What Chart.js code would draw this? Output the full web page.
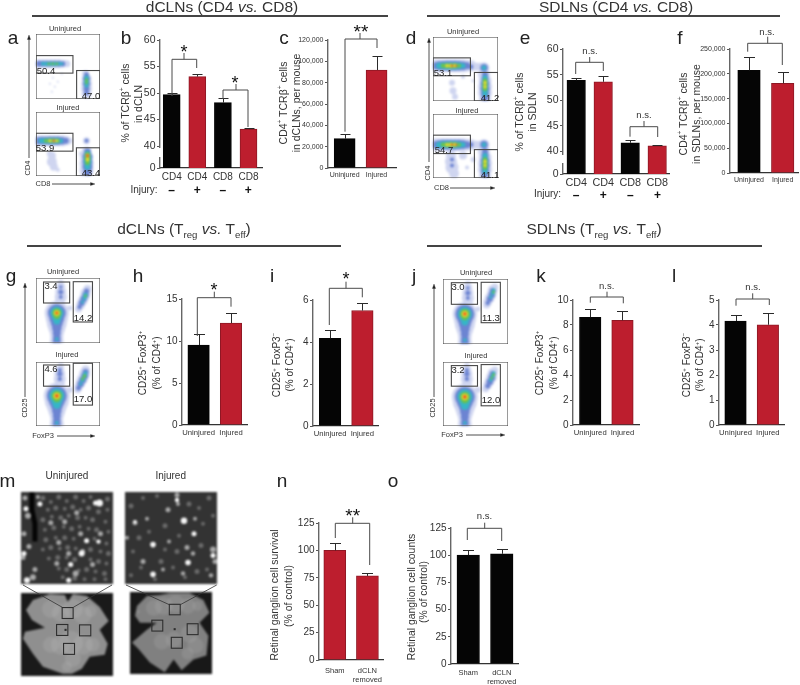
<!DOCTYPE html>
<html lang="en">
<head>
<meta charset="UTF-8">
<title>dCLN and SDLN panels</title>
<script src="https://cdn.jsdelivr.net/npm/chart.js"></script>
<style>
    html, body { margin: 0; padding: 0; background: #fff; }
    #page { position: relative; width: 800px; height: 685px; overflow: hidden; font-family: 'Liberation Sans', Arial, sans-serif; color: #333; }
    #page canvas { position: absolute; }
    .t { position: absolute; white-space: nowrap; line-height: 1; transform: translate(-50%, -50%); z-index: 5; }
    .v { transform: translate(-50%, -50%) rotate(-90deg); }
    .rule { position: absolute; height: 2px; background: #444; }
    sup, sub { font-size: .62em; line-height: 0; }
    #over { position: absolute; left: 0; top: 0; z-index: 4; }
</style>
</head>
<body>
<div id="page"></div>
<script>
// bar values
const BLACK = '#050505', RED = '#bd1e2e';
const catsInjury = ['CD4', 'CD4', 'CD8', 'CD8'];
const catsPair = ['Uninjured', 'Injured'];
const catsSham = ['Sham', ['dCLN', 'removed']];

const bValues = [49.7, 53.1, 48.2, 43.2];
const bTops = [50.1, 53.6, 49.0, 43.4];
const bTicks = [40, 45, 50, 55, 60];
const cValues = [27500, 91900];
const cTops = [32200, 104700];
const cTicks = [0, 20000, 40000, 60000, 80000, 100000, 120000];
const eValues = [53.9, 53.6, 41.7, 41.1];
const eTops = [54.3, 54.7, 42.3, 41.2];
const eTicks = [40, 45, 50, 55, 60];
const fValues = [207000, 181000];
const fTops = [233000, 204000];
const fTicks = [0, 50000, 100000, 150000, 200000, 250000];
const hValues = [9.52, 12.14];
const hTops = [10.8, 13.33];
const hTicks = [0, 5, 10, 15];
const iValues = [4.17, 5.5];
const iTops = [4.55, 5.88];
const iTicks = [0, 2, 4, 6];
const kValues = [8.62, 8.38];
const kTops = [9.26, 9.15];
const kTicks = [0, 2, 4, 6, 8, 10];
const lValues = [4.16, 4.01];
const lTops = [4.4, 4.48];
const lTicks = [0, 1, 2, 3, 4, 5];
const nValues = [100, 76.7];
const nTops = [106.7, 79.4];
const nTicks = [0, 25, 50, 75, 100, 125];
const oValues = [100, 101.3];
const oTops = [105.2, 105.6];
const oTicks = [0, 25, 50, 75, 100, 125];

// flow plots: dots as [x, y, r], one list per density level
const flowColors = ['#cfd5f0', '#6c84d2', '#35b6c6', '#6cc24a', '#f0dc2c', '#e8321e'];
const flowA1 = [
    [[3,30,4.5],[7,30,4.5],[11,30,4.5],[15,30,4.5],[19,30,4.5],[23,30,4.5],[27,30,4],[31,30,3.5],[50,40,3.5],[51,45,5],[51,50,5.5],[51,55,5.5],[51,60,5],[17,44,1],[14,50,1],[19,53,1],[22,48,1],[16,58,1],[26,40,1]],
    [[3,30,3],[7,30,3],[11,30,3],[15,30,3],[19,30,3],[23,30,3],[27,30,2.6],[51,41,2.5],[51,45,3.5],[51,50,3.5],[51,55,3],[51,59,2.5]],
    [[7,30,2],[11,30,2.2],[15,30,2.2],[19,30,2.2],[23,30,2],[26,30,1.5],[51,44,2.3],[51,48,2.6],[51,52,2]],
    [[13,30,1.3],[17,30,1.4],[21,30,1.3],[51,46,1.5],[51,49,1.4]], [], []
];
const flowA2 = [
    [[3,29,5.5],[7,29,5.5],[11,29,5.5],[15,29,5.5],[19,29,5.5],[23,29,5.5],[27,29,5.5],[31,29,4.5],[34,29,3],[51,29,3.5],[51,40,5],[51,46,6.5],[51,52,7],[51,58,7],[51,62,6],[16,44,4],[16,50,5],[18,55,4],[14,42,3],[22,58,2],[46,42,2.5]],
    [[2,29,3.5],[6,29,4],[10,29,4],[14,29,4.2],[18,29,4.2],[22,29,4.2],[26,29,3.8],[30,29,3],[51,29,2],[52,40,3.5],[52,45,5],[52,50,5],[52,55,5],[52,60,4]],
    [[5,29,2.5],[9,29,2.8],[13,29,3],[17,29,3],[21,29,3],[25,29,2.4],[52,42,3],[52,46,3.8],[52,50,3.8],[52,55,3]],
    [[10,29,2],[14,29,2.2],[18,29,2.2],[22,29,2],[52,43,2.6],[52,47,2.8],[52,51,2.4]],
    [[14,29,1.5],[18,29,1.6],[21,29,1.4],[52,44,2],[52,48,1.8]],
    [[18,29,1],[52,44,1.3]]
];
const flowD1 = [
    [[2,29,6.5],[6,29,6.5],[10,29,6.5],[14,29,6.5],[18,29,6.5],[22,29,6.5],[26,29,6.5],[30,29,6.5],[34,29,6],[38,29,5.5],[43,30,4],[47,30,4],[51,31,5.5],[51,38,6],[52,44,6.5],[52,50,7],[52,56,7],[52,62,6],[19,46,3],[20,54,3.5],[22,60,3],[30,40,2],[40,44,1.5]],
    [[2,29,3.5],[6,29,4.5],[10,29,4.8],[14,29,5],[18,29,5],[22,29,5],[26,29,4.8],[30,29,4.4],[34,29,3.5],[38,30,2.4],[51,31,3.8],[52,38,3],[52,42,3.6],[52,47,4.4],[52,52,4.6],[52,57,4.2],[52,61,3.5]],
    [[6,29,3],[10,29,3.3],[14,29,3.6],[18,29,3.6],[22,29,3.6],[26,29,3.2],[30,29,2.5],[51,31,2.2],[52,41,2.5],[52,45,3],[52,49,3.2],[52,53,3],[52,57,2.6]],
    [[10,29,2.2],[14,29,2.5],[18,29,2.6],[22,29,2.5],[26,29,2],[52,44,2.3],[52,48,2.5],[52,52,2.3]],
    [[14,29,1.7],[18,29,1.9],[22,29,1.8],[52,46,1.8],[52,50,1.7]],
    [[19,29,1],[23,29,.9]]
];
const flowD2 = [
    [[2,31,6.5],[6,31,6.5],[10,31,6.5],[14,31,6.5],[18,31,6.5],[22,31,6.5],[26,31,6.5],[30,31,6.5],[34,31,6],[38,31,5.5],[43,31,4],[47,31,4],[51,31,5.5],[51,38,6],[52,44,6.5],[52,50,7],[52,56,7],[52,62,6],[18,42,5],[18,48,6],[19,54,6.5],[21,60,5],[30,42,4],[40,46,2.5],[34,54,2]],
    [[2,31,3.5],[6,31,4.5],[10,31,4.8],[14,31,5],[18,31,5],[22,31,5],[26,31,4.8],[30,31,4.4],[34,31,3.5],[38,31,2.4],[51,31,3.8],[52,38,3],[52,42,3.6],[52,47,4.4],[52,52,4.6],[52,57,4.2],[52,61,3.5],[19,46,2],[19,52,2]],
    [[6,31,3],[10,31,3.3],[14,31,3.6],[18,31,3.6],[22,31,3.6],[26,31,3.2],[30,31,2.5],[51,31,2.2],[52,42,2.5],[52,46,3],[52,50,3.2],[52,54,3],[52,58,2.6]],
    [[10,31,2.2],[14,31,2.5],[18,31,2.6],[22,31,2.5],[26,31,2],[52,46,2.3],[52,50,2.5],[52,54,2.3]],
    [[14,31,1.7],[18,31,1.9],[22,31,1.8],[52,48,1.8],[52,52,1.6]],
    [[19,31,1],[23,31,.9]]
];
const flowG1 = [
    [[21,35,12],[21,40,11],[21,45,10],[21,50,8.5],[21,55,7],[21,60,6.5],[21,64,7],[24,24,5],[25,19,6],[25,14,5.5],[25,9,4.5],[25,5,3],[34,30,2.5],[43,31,3.5],[45,27,4.5],[47,23,5],[49,19,5],[50,15,5],[52,11,4]],
    [[21,35,9],[21,40,7.5],[21,45,6],[21,50,4.8],[21,55,4],[21,60,3.8],[21,64,4],[25,19,2],[25,14,2.5],[25,9,1.8],[44,29,2.2],[46,25,3],[48,21,3.2],[50,17,3.2],[51,13,2.6]],
    [[21,35,6.5],[21,39,5],[21,43,3.5],[21,61,1.8],[47,24,1.6],[49,20,2],[50,17,2.2]],
    [[21,35,4.5],[21,38,3],[50,18,1.3]],
    [[21,35,2.8]],
    [[21,35,1.3]]
];
const flowG2 = [
    [[21,34,13],[21,39,12],[21,44,10],[21,49,8.5],[21,54,7],[21,59,6.5],[21,63,7],[24,22,5],[24,17,6],[24,12,5.5],[24,8,4.5],[25,4,3],[34,28,3],[42,28,3.5],[43,25,4.5],[45,21,5],[47,17,5.5],[49,12,5.5],[50,8,4.5]],
    [[21,34,10],[21,39,8],[21,44,6],[21,49,4.8],[21,54,4],[21,59,3.8],[21,63,4],[24,17,2.2],[24,12,2.6],[24,8,2],[43,26,2.5],[45,22,3.2],[47,18,3.5],[49,14,3.5],[50,10,3]],
    [[21,34,7.5],[21,39,5.5],[21,43,4],[21,61,1.8],[45,22,1.6],[47,18,2.2],[49,14,2.4],[50,11,1.8]],
    [[21,34,5.2],[21,37,3.5],[47,17,1.3],[49,14,1.7]],
    [[21,34,3.2]],
    [[21,34,1.6]]
];
const flowJ1 = [
    [[22,35,12],[22,40,11],[22,45,10],[22,50,8.5],[22,55,7],[22,60,6.5],[22,64,7],[25,24,5],[25,19,6],[25,14,5.5],[25,9,4.5],[25,5,3],[35,30,2.5],[44,26,3.5],[45,23,4.5],[47,19,5],[49,15,5],[50,11,5],[52,8,3.5]],
    [[22,35,9.5],[22,40,7.5],[22,45,6],[22,50,4.8],[22,55,4],[22,60,3.8],[22,64,4],[25,19,2],[25,14,2.5],[25,9,1.8],[45,24,2.2],[47,20,3],[49,16,3.2],[50,12,3]],
    [[22,35,7],[22,39,5],[22,43,3.5],[22,61,1.8],[48,18,1.6],[50,14,2],[51,11,1.7]],
    [[22,35,5],[22,38,3],[51,13,1.2]],
    [[22,35,3]],
    [[22,35,1.4]]
];
const flowJ2 = [
    [[22,35,13],[22,40,12],[22,45,10],[22,50,8.5],[22,55,7],[22,60,6.5],[22,64,7],[24,22,5],[24,17,6],[24,12,5.5],[24,8,4.5],[24,4,3],[35,28,3],[43,27,3.5],[45,23,4.5],[47,19,5],[49,15,5.5],[50,11,5],[52,8,3.5]],
    [[22,35,10],[22,40,8],[22,45,6],[22,50,4.8],[22,55,4],[22,60,3.8],[22,64,4],[24,17,2.2],[24,12,2.6],[24,8,2],[45,24,2.5],[47,20,3.2],[49,16,3.4],[50,12,3]],
    [[22,35,7.5],[22,40,5.5],[22,44,4],[22,61,1.8],[48,18,1.8],[50,14,2.2],[51,11,1.7]],
    [[22,35,5.2],[22,38,3.5],[51,13,1.4],[49,16,1.2]],
    [[22,35,3.2]],
    [[22,35,1.6]]
];

// micrographs: spots and outlines
const grays = ['#6a6a6a', '#a8a8a8', '#f5f5f5'];
const retinaU = [
    [[22,6,2.5],[30,10,2],[38,5,2.5],[46,9,2],[55,5,2.5],[63,9,2],[70,5,2],[87,7,2.5],[27,18,2],[35,16,2.5],[44,17,2],[52,15,2.5],[60,18,2],[68,16,2.5],[78,20,2.5],[87,18,2],[22,28,2.5],[31,25,2],[40,26,2.5],[48,24,2],[57,26,2.5],[65,26,2],[72,28,2.5],[85,30,2],[24,38,2],[33,36,2.5],[43,35,2],[51,37,2.5],[59,35,2],[68,37,2],[76,38,2.5],[88,40,2],[25,48,2.5],[35,46,2],[44,46,2.5],[53,47,2],[74,47,2],[86,52,2],[22,58,2],[30,56,2.5],[39,57,2],[47,56,2.5],[55,57,2],[70,58,2.5],[80,60,2],[88,62,2.5],[28,67,2],[37,66,2.5],[46,66,2],[54,68,2.5],[70,68,2],[78,70,2.5],[86,72,2],[38,77,2],[46,78,2.5],[58,79,2],[66,78,2.5],[75,80,2],[84,82,2.5],[42,86,2],[54,87,2.5],[64,88,2],[74,88,2],[85,88,2]],
    [[4,6,2.5],[17,5,2],[7,24,3],[3,42,2.5],[8,55,2.5],[2,66,2.5],[30,31,2.5],[44,30,2.5],[56,21,2.5],[38,51,2.5],[60,42,2.5],[48,62,2.5],[62,60,2.5],[36,72,2.5],[72,73,2.5],[55,82,3],[80,42,2.5],[14,78,2.5],[12,86,3]],
    [[79,11,3.5],[75,11,2.5],[61,62,3],[66,49,2.5],[50,73,2.5],[19,12,2.5],[5,17,2.5],[6,89,3],[78,50,2.2],[3,62,2.5],[48,89,2.5]]
];
const retinaUStrip = [[11,0],[11,18],[14,32],[14,50]];
const retinaI = [
    [[6,14,2.5],[18,6,2],[32,4,2],[64,12,2.5],[74,16,2],[84,6,2.5],[14,46,2.5],[24,40,2],[40,34,2.5],[54,44,2],[78,32,2],[88,24,2],[8,60,2],[40,58,2],[52,60,2.5],[76,54,2.5],[16,76,2],[36,70,2.5],[48,76,2],[72,80,2.5],[82,78,2],[6,84,2],[30,88,2],[60,86,2]],
    [[10,31,2.5],[22,27,2],[43,18,2.5],[52,3,2.5],[53,12,2],[70,27,2],[2,46,2],[44,50,2],[62,56,2.5],[68,62,2.2],[18,70,2.5],[38,78,2],[88,58,3],[90,70,2.5],[86,84,2.2],[58,82,2.2]],
    [[59,29,3.2],[52,8,2.2],[28,53,2.8],[69,42,2.5],[63,71,2.8],[28,83,2.8],[88,64,2.5],[10,30,1.8]]
];
const mountU = [[12,7],[29,1],[44,2],[47,9],[52,1],[66,3],[79,14],[88,28],[79,37],[87,51],[84,62],[69,64],[61,76],[51,81],[42,81],[22,74],[12,61],[2,46],[4,39],[24,35],[11,27],[5,17],[12,7]];
const mountUGlow = [[30,16,9],[40,20,9],[52,16,10],[62,22,9],[70,18,6],[40,52,10],[50,50,12],[62,52,10],[72,52,7],[30,52,8],[52,66,8],[46,74,5]];
const mountI = [[7,14],[17,4],[30,3],[40,1],[60,1],[74,8],[80,21],[70,31],[79,44],[77,64],[64,68],[52,79],[44,68],[35,81],[20,71],[9,58],[2,51],[17,38],[27,31],[10,31],[5,24],[7,14]];
const mountIGlow = [[24,16,8],[34,14,9],[46,12,9],[58,14,8],[68,14,5],[32,50,8],[44,48,8],[60,42,9],[66,54,8],[58,62,6],[8,20,2]];

const page = document.getElementById('page');

function txt(html, x, y, size, extra) {
    const d = document.createElement('div');
    d.className = 't' + (extra && extra.v ? ' v' : '');
    d.innerHTML = html;
    d.style.left = x + 'px';
    d.style.top = y + 'px';
    d.style.fontSize = size + 'px';
    if (extra && extra.color) d.style.color = extra.color;
    page.appendChild(d);
}

function rule(x0, x1, y) {
    const d = document.createElement('div');
    d.className = 'rule';
    d.style.left = x0 + 'px';
    d.style.width = (x1 - x0) + 'px';
    d.style.top = (y - 1) + 'px';
    page.appendChild(d);
}

const svgNS = 'http://www.w3.org/2000/svg';
const over = document.createElementNS(svgNS, 'svg');
over.setAttribute('id', 'over');
over.setAttribute('width', 800);
over.setAttribute('height', 685);
page.appendChild(over);

function path(d, color, width, fill) {
    const p = document.createElementNS(svgNS, 'path');
    p.setAttribute('d', d);
    p.setAttribute('fill', fill || 'none');
    p.setAttribute('stroke', color);
    p.setAttribute('stroke-width', width);
    over.appendChild(p);
}

// left leg, right leg and stem of a significance bracket
function bracket(x0, yL, x1, yR, top, stemX, stemTop) {
    path(`M${x0} ${yL}V${top}H${x1}V${yR}M${stemX} ${top}V${stemTop}`, '#4a4a4a', 1);
}

function arrowUp(x, y0, y1) {
    path(`M${x} ${y0}V${y1 + 3}`, '#222', 0.8);
    path(`M${x} ${y1}l-1.6 4.5h3.2z`, '#222', 0.3, '#222');
}
function arrowRight(x0, x1, y) {
    path(`M${x0} ${y}H${x1 - 3}`, '#222', 0.8);
    path(`M${x1} ${y}l-4.5 -1.6v3.2z`, '#222', 0.3, '#222');
}

const errorBars = {
    id: 'errorBars',
    afterDatasetsDraw(chart, args, opts) {
        const { ctx, scales } = chart;
        ctx.save();
        ctx.strokeStyle = '#2a2a2a';
        ctx.lineWidth = 1;
        opts.tops.forEach((top, i) => {
            const x = Math.round(scales.x.getPixelForValue(i)) + .5;
            const y0 = scales.y.getPixelForValue(opts.values[i]);
            const y1 = Math.round(scales.y.getPixelForValue(top)) + .5;
            ctx.beginPath();
            ctx.moveTo(x, y0);
            ctx.lineTo(x, y1);
            ctx.moveTo(x - opts.cap, y1);
            ctx.lineTo(x + opts.cap, y1);
            ctx.stroke();
        });
        ctx.restore();
    }
};

// white gap in the y axis line, gap given in page pixels
const axisBreak = {
    id: 'axisBreak',
    afterDraw(chart, args, opts) {
        if (!opts.gap) return;
        const { ctx, chartArea } = chart;
        ctx.fillStyle = '#fff';
        ctx.fillRect(chartArea.left - 4, opts.gap[0] - opts.canvasTop, 6, opts.gap[1] - opts.gap[0]);
    }
};

function barPanel(p) {
    const padL = p.labelRoom || 42, padT = 8, padB = p.foot || 16, padR = 4;
    const c = document.createElement('canvas');
    const w = p.right - p.left + padL + padR, h = p.bottom - p.top + padT + padB;
    c.width = w; c.height = h;
    c.style.left = (p.left - padL) + 'px';
    c.style.top = (p.top - padT) + 'px';
    page.appendChild(c);
    const W = p.c1 - p.c0;
    const fmt = p.fmt || (v => String(v));
    const yMin = p.yMin !== undefined ? p.yMin : p.ticks[0];
    const yTicks = p.yMin !== undefined ? [p.yMin, ...p.ticks] : p.ticks;
    new Chart(c, {
        type: 'bar',
        data: {
            datasets: [{
                data: p.values.map((v, i) => ({ x: i, y: v })),
                backgroundColor: p.colors,
                borderColor: p.colors.map(k => k === RED ? '#8e1824' : BLACK),
                borderWidth: 1,
                barThickness: p.barW
            }]
        },
        options: {
            responsive: false,
            animation: false,
            layout: { padding: { left: 0, right: padR, top: padT, bottom: 0 } },
            plugins: {
                legend: { display: false },
                tooltip: { enabled: false },
                errorBars: { tops: p.tops, values: p.values, cap: p.cap || 5.5 },
                axisBreak: { gap: p.gap, canvasTop: p.top - padT }
            },
            scales: {
                x: {
                    type: 'linear',
                    offset: false,
                    min: (p.left - p.c0) / W,
                    max: (p.right - p.c0) / W,
                    grid: { display: false, drawTicks: false, offset: false },
                    border: { color: '#333', width: 1.2 },
                    afterBuildTicks: a => { a.ticks = p.cats.map((_, i) => ({ value: i })); },
                    ticks: {
                        autoSkip: false, maxRotation: 0, padding: p.catPad || 3, color: '#333',
                        font: { size: p.catSize, family: "'Liberation Sans'" },
                        callback: v => p.cats[v]
                    },
                    afterFit: a => { a.height = padB; }
                },
                y: {
                    min: yMin,
                    max: p.yMax,
                    grid: { display: true, drawOnChartArea: false, drawTicks: true, tickLength: 3, color: '#555' },
                    border: { color: '#666', width: 1.4 },
                    afterBuildTicks: a => { a.ticks = yTicks.map(v => ({ value: v })); },
                    ticks: {
                        autoSkip: false, padding: 1.5, color: '#333',
                        font: { size: p.tickSize, family: "'Liberation Sans'" },
                        callback: v => (p.yMin !== undefined && v === p.yMin) ? '0' : fmt(v)
                    },
                    afterFit: a => { a.width = padL; }
                }
            }
        },
        plugins: [errorBars, axisBreak]
    });
}

const boxFrame = {
    id: 'boxFrame',
    afterDraw(chart, args, opts) {
        const { ctx, scales } = chart;
        ctx.save();
        ctx.strokeStyle = opts.color;
        ctx.lineWidth = opts.width;
        opts.rects.forEach(r => {
            const x0 = scales.x.getPixelForValue(r[0]), y0 = scales.y.getPixelForValue(r[1]);
            const x1 = scales.x.getPixelForValue(r[2]), y1 = scales.y.getPixelForValue(r[3]);
            ctx.strokeRect(x0, y0, x1 - x0, y1 - y0);
        });
        ctx.restore();
    }
};
const plotBg = {
    id: 'plotBg',
    beforeDraw(chart, args, opts) {
        chart.ctx.fillStyle = opts.color;
        chart.ctx.fillRect(0, 0, chart.width, chart.height);
    }
};

// dot/outline plot whose axes run in the box's own units; first layer ends up at the back.
// the gates sit on their own unblurred canvas on top.
function dotPlot(b) {
    const w = b.x1 - b.x0, h = b.y1 - b.y0;
    const scales = {
        x: { type: 'linear', display: false, min: 0, max: w },
        y: { type: 'linear', display: false, min: 0, max: h, reverse: true }
    };
    const mk = () => {
        const c = document.createElement('canvas');
        c.width = w; c.height = h;
        c.style.left = b.x0 + 'px';
        c.style.top = b.y0 + 'px';
        page.appendChild(c);
        return c;
    };
    const c = mk();
    if (b.blur) c.style.filter = `blur(${b.blur}px)`;
    new Chart(c, {
        type: 'bubble',
        data: { datasets: b.layers.slice().reverse() },
        options: {
            responsive: false,
            animation: false,
            layout: { padding: 0, autoPadding: false },
            plugins: { legend: { display: false }, tooltip: { enabled: false }, plotBg: { color: b.bg || '#fff' } },
            scales
        },
        plugins: [plotBg]
    });
    if (!b.rects.length) return;
    new Chart(mk(), {
        type: 'scatter',
        data: { datasets: [] },
        options: {
            responsive: false,
            animation: false,
            layout: { padding: 0, autoPadding: false },
            plugins: {
                legend: { display: false }, tooltip: { enabled: false },
                boxFrame: { rects: b.rects, color: b.rectColor || '#484848', width: b.rectWidth || 1.1 }
            },
            scales
        },
        plugins: [boxFrame]
    });
}
const dots = (list, color) => ({ data: list.map(d => ({ x: d[0], y: d[1], r: d[2] })), backgroundColor: color, borderWidth: 0, clip: false });
const outline = (list, fill, color, width) => ({
    type: 'line', data: list.map(d => ({ x: d[0], y: d[1] })), pointRadius: 0, tension: 0,
    fill: fill ? 'shape' : false, backgroundColor: fill || 'transparent',
    borderColor: color, borderWidth: width || 0
});

function flowPlot(x0, y0, x1, y1, gates, levels) {
    dotPlot({
        x0, y0, x1, y1, blur: .9,
        rects: [[0, 0, x1 - x0, y1 - y0], ...gates],
        layers: levels.map((l, i) => dots(l, flowColors[i]))
    });
}

// ---- headers
txt('dCLNs (CD4 <i>vs.</i> CD8)', 222, 6.5, 15.5);
txt('SDLNs (CD4 <i>vs.</i> CD8)', 616, 6.5, 15.5);
txt('dCLNs (T<sub>reg</sub> <i>vs.</i> T<sub>eff</sub>)', 184, 229, 15.5);
txt('SDLNs (T<sub>reg</sub> <i>vs.</i> T<sub>eff</sub>)', 594, 229, 15.5);
rule(32, 388, 16); rule(427, 780, 16); rule(27, 341, 245.5); rule(427, 762, 245.5);

// ---- panel letters
[['a', 13, 36.5], ['b', 126, 36.5], ['c', 284, 36.5], ['d', 411, 36.5], ['e', 525, 36.5], ['f', 680, 36.5],
 ['g', 11, 275], ['h', 138, 275], ['i', 272, 275], ['j', 414, 275], ['k', 541, 275], ['l', 674, 275],
 ['m', 7.5, 479.5], ['n', 282, 479.5], ['o', 393, 479.5]].forEach(l => txt(l[0], l[1], l[2], 19, { color: '#222' }));

// ---- flow plots
flowPlot(35.7, 34, 100.3, 99.3, [[0, 21.7, 37.3, 39.3], [41, 36.7, 64.6, 65.3]], flowA1);
flowPlot(35.7, 112.3, 100.3, 176.7, [[0, 21.4, 37.3, 39.4], [40.8, 36, 64.6, 64.4]], flowA2);
flowPlot(433.3, 37.3, 498.3, 101.7, [[0, 21, 37.4, 39], [41.4, 35.7, 65, 64.4]], flowD1);
flowPlot(433.3, 114.3, 498.3, 179, [[0, 21.4, 37.4, 40], [41.4, 36, 65, 64.7]], flowD2);
flowPlot(35.7, 278.3, 100.3, 343.3, [[7.6, 4, 34, 25], [37.6, 3.7, 57, 44]], flowG1);
flowPlot(35.7, 361.7, 100.3, 426, [[7.6, 3, 34, 24.3], [37.6, 1.3, 57, 43.3]], flowG2);
flowPlot(443.3, 279, 508.7, 344, [[8.4, 3.7, 34.7, 25.3], [38.4, 3.3, 57.7, 43.7]], flowJ1);
flowPlot(443.3, 361.7, 508.7, 426, [[8.4, 3.6, 34.7, 24.3], [38.4, 2.6, 57.7, 44]], flowJ2);

const flowText = [
    ['Uninjured', 65, 29], ['Injured', 68, 108], ['Uninjured', 463, 32], ['Injured', 467, 111],
    ['Uninjured', 63, 272], ['Injured', 67, 355], ['Uninjured', 476, 273], ['Injured', 476, 356]
];
flowText.forEach(t => txt(t[0], t[1], t[2], 7.5));
[['50.4', 46, 71], ['47.0', 91, 96], ['53.9', 45, 148], ['43.4', 91, 173],
 ['53.1', 443, 73], ['41.2', 490, 98], ['54.7', 444, 150], ['41.1', 490, 175],
 ['3.4', 51, 286], ['14.2', 83, 318], ['4.6', 51, 369], ['17.0', 83, 399],
 ['3.0', 458, 287], ['11.3', 491, 318], ['3.2', 458, 370], ['12.0', 491, 400]
].forEach(t => txt(t[0], t[1], t[2], 9.5, { color: '#222' }));

txt('CD4', 28, 168, 7.5, { v: true }); txt('CD8', 43, 184, 7.5);
txt('CD4', 428, 173, 7.5, { v: true }); txt('CD8', 441.5, 188, 7.5);
txt('CD25', 24.5, 408, 7.5, { v: true }); txt('FoxP3', 43, 436, 7.5);
txt('CD25', 433, 408, 7.5, { v: true }); txt('FoxP3', 452, 435, 7.5);
arrowUp(29, 158, 35); arrowRight(52, 95, 184);
arrowUp(429, 162, 38); arrowRight(450, 495, 188);
arrowUp(25, 397, 283); arrowRight(57, 95, 436);
arrowUp(434, 397, 284); arrowRight(466, 505, 435);

// ---- bar panels
const big = v => v.toLocaleString('en-US');
barPanel({ left: 160, right: 262, top: 40, bottom: 168.7, yMin: 35.88, yMax: 60, ticks: bTicks, values: bValues, tops: bTops,
    cats: catsInjury, colors: [BLACK, RED, BLACK, RED], c0: 171.7, c1: 197.3, barW: 17, catSize: 10, tickSize: 10.5, gap: [148, 157], cap: 5 });
barPanel({ left: 328.3, right: 396.5, top: 39.7, bottom: 167.7, yMax: 120000, ticks: cTicks, values: cValues, tops: cTops,
    cats: catsPair, colors: [BLACK, RED], c0: 345, c1: 377, barW: 21, catSize: 7, tickSize: 7, fmt: big, cap: 5 });
barPanel({ left: 562.7, right: 669.5, top: 49, bottom: 174.3, yMin: 35.6, yMax: 60, ticks: eTicks, values: eValues, tops: eTops,
    cats: catsInjury, colors: [BLACK, RED, BLACK, RED], c0: 576, c1: 603.2, barW: 18.5, catSize: 10.8, tickSize: 10.5, gap: [155, 163], cap: 5 });
barPanel({ left: 730, right: 798, top: 49.3, bottom: 174, yMax: 250000, ticks: fTicks, values: fValues, tops: fTops,
    cats: catsPair, colors: [BLACK, RED], c0: 749, c1: 782.7, barW: 22.5, catSize: 7, tickSize: 7, fmt: big, cap: 5.5 });
barPanel({ left: 181.7, right: 247.5, top: 299.3, bottom: 425.3, yMax: 15, ticks: hTicks, values: hValues, tops: hTops,
    cats: catsPair, colors: [BLACK, RED], c0: 198.5, c1: 231.3, barW: 21.5, catSize: 7.7, tickSize: 10 });
barPanel({ left: 312.7, right: 378.5, top: 299.7, bottom: 426, yMax: 6, ticks: iTicks, values: iValues, tops: iTops,
    cats: catsPair, colors: [BLACK, RED], c0: 330, c1: 362.7, barW: 21.5, catSize: 7.7, tickSize: 10 });
barPanel({ left: 573.3, right: 640, top: 300, bottom: 425.3, yMax: 10, ticks: kTicks, values: kValues, tops: kTops,
    cats: catsPair, colors: [BLACK, RED], c0: 590.7, c1: 623.3, barW: 21.5, catSize: 7.7, tickSize: 10 });
barPanel({ left: 719.3, right: 785, top: 300.3, bottom: 425.7, yMax: 5, ticks: lTicks, values: lValues, tops: lTops,
    cats: catsPair, colors: [BLACK, RED], c0: 736, c1: 768.7, barW: 21.5, catSize: 7.7, tickSize: 10 });
barPanel({ left: 319.3, right: 385.3, top: 523.3, bottom: 660.3, yMax: 125, ticks: nTicks, values: nValues, tops: nTops,
    cats: catsSham, colors: [RED, RED], c0: 335.5, c1: 369, barW: 22, catSize: 7.5, tickSize: 10, foot: 26, catPad: 6 });
barPanel({ left: 451, right: 518.3, top: 527.7, bottom: 664.3, yMax: 125, ticks: oTicks, values: oValues, tops: oTops,
    cats: catsSham, colors: [BLACK, BLACK], c0: 468.3, c1: 502, barW: 22.5, catSize: 7.5, tickSize: 10, foot: 26, catPad: 4 });

// ---- y titles
txt('% of TCRβ<sup>+</sup> cells', 125, 103, 10.5, { v: true });
txt('in dCLN', 138, 103.5, 10.5, { v: true });
txt('CD4<sup>+</sup> TCRβ<sup>+</sup> cells', 283, 103, 10.5, { v: true });
txt('in dCLNs, per mouse', 296, 103, 10.5, { v: true });
txt('% of TCRβ<sup>+</sup> cells', 519.3, 112, 10.5, { v: true });
txt('in SDLN', 531.7, 112, 10.5, { v: true });
txt('CD4<sup>+</sup> TCRβ<sup>+</sup> cells', 683, 114, 10.5, { v: true });
txt('in SDLNs, per mouse', 696, 114, 10.5, { v: true });
txt('CD25<sup>+</sup> FoxP3<sup>+</sup>', 143.3, 362.5, 10, { v: true });
txt('(% of CD4<sup>+</sup>)', 156.7, 362.5, 10, { v: true });
txt('CD25<sup>+</sup> FoxP3<sup>−</sup>', 276.7, 365, 10, { v: true });
txt('(% of CD4<sup>+</sup>)', 290, 365, 10, { v: true });
txt('CD25<sup>+</sup> FoxP3<sup>+</sup>', 540, 363, 10, { v: true });
txt('(% of CD4<sup>+</sup>)', 554, 363, 10, { v: true });
txt('CD25<sup>+</sup> FoxP3<sup>−</sup>', 686.7, 365, 10, { v: true });
txt('(% of CD4<sup>+</sup>)', 700, 365, 10, { v: true });
txt('Retinal ganglion cell survival', 275, 595, 10.4, { v: true });
txt('(% of control)', 289.3, 596, 10.4, { v: true });
txt('Retinal ganglion cell counts', 411.7, 596.5, 10.4, { v: true });
txt('(% of control)', 424.3, 592, 10.4, { v: true });

// ---- injury rows
txt('Injury:', 144, 190, 10); txt('Injury:', 547.5, 194, 10);
[[171.7, 190, '–'], [197.3, 190, '+'], [222.8, 190, '–'], [248.3, 190, '+'],
 [576, 195, '–'], [603.2, 195, '+'], [630.4, 195, '–'], [657.6, 195, '+']
].forEach(s => txt('<b>' + s[2] + '</b>', s[0], s[1], 12, { color: '#111' }));

// ---- brackets and significance
bracket(172, 96, 196.7, 68, 59.3, 184, 53); txt('*', 184, 52, 18, { color: '#111' });
bracket(223, 99, 248, 127, 90, 236, 84); txt('*', 235, 83, 18, { color: '#111' });
bracket(345, 131.7, 377, 48, 39, 360, 33); txt('**', 361, 31, 19, { color: '#111' });
bracket(575.7, 74, 603.3, 71, 62.3, 589.7, 57); txt('n.s.', 590, 51, 9.5);
bracket(630, 136.7, 657.7, 137, 126.7, 644, 121); txt('n.s.', 644, 115, 9.5);
bracket(747.7, 51.7, 782.3, 65, 43.3, 767.7, 36.7); txt('n.s.', 767, 31.5, 9.5);
bracket(197.3, 336, 231, 306.7, 297.7, 214.3, 291.7); txt('*', 214, 290, 18, { color: '#111' });
bracket(329.3, 325, 362.3, 297.3, 288.3, 346, 281.7); txt('*', 346, 279, 18, { color: '#111' });
bracket(590.3, 302.7, 623.3, 303.3, 297, 607, 291.7); txt('n.s.', 606.7, 285.7, 9.5);
bracket(736, 305.7, 769.3, 305, 299, 752.7, 293.3); txt('n.s.', 753, 286.7, 9.5);
bracket(335.3, 538, 369.7, 565, 523.3, 352.7, 517.3); txt('**', 352.7, 515, 19, { color: '#111' });
bracket(467.3, 540, 501.7, 541, 528.3, 484.7, 522.7); txt('n.s.', 484.5, 516, 9.5);

// ---- micrographs
txt('Uninjured', 67, 475.7, 10); txt('Injured', 170.7, 475.7, 10);
dotPlot({ x0: 20.7, y0: 492.3, x1: 113.3, y1: 585, bg: '#333', blur: 1, rects: [],
    layers: [outline(retinaUStrip, null, '#050505', 5), ...retinaU.map((l, i) => dots(l, grays[i]))] });
dotPlot({ x0: 125, y0: 492.3, x1: 217, y1: 585, bg: '#333', blur: 1, rects: [],
    layers: retinaI.map((l, i) => dots(l, grays[i])) });
dotPlot({ x0: 21, y0: 592.7, x1: 113.3, y1: 676, bg: '#1a1a1a', rectColor: '#2e2e2e', blur: 1,
    rects: [[41.3, 14.6, 52.3, 25.6], [35.7, 31.6, 47, 42.6], [58.7, 32, 70, 43], [42.7, 50.6, 53.7, 61.6], [44.2, 36.5, 45.2, 37.5]],
    layers: [outline(mountU, '#8f8f8f', '#8f8f8f', 0), dots(mountUGlow, 'rgba(200,200,200,.18)')] });
dotPlot({ x0: 129.7, y0: 592.3, x1: 212.3, y1: 675, bg: '#181818', rectColor: '#2e2e2e', blur: 1,
    rects: [[39.6, 12.4, 50.6, 23], [22, 28.4, 33, 39.4], [57.6, 32, 68.6, 43], [41.6, 45.7, 52.6, 56.7], [44.5, 37, 45.5, 38]],
    layers: [outline(mountI, '#808080', '#808080', 0), dots(mountIGlow, 'rgba(190,190,190,.18)')] });
path('M23 585L62.3 607.3M112 585L73.3 607.3', '#333', .8);
path('M126 585L169.3 604.7M216.7 585L180.3 604.7', '#333', .8);
</script>
</body>
</html>
